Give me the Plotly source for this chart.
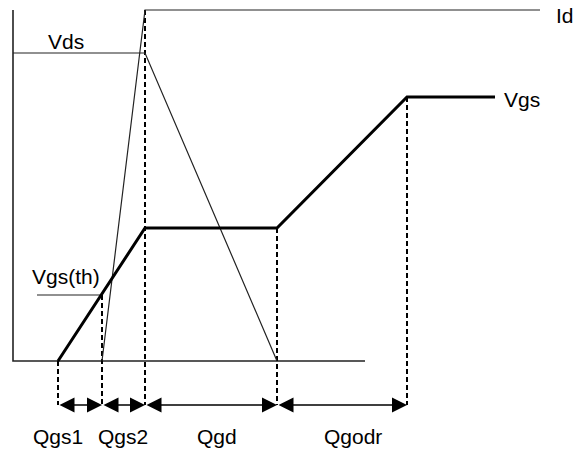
import plotly.graph_objects as go

# Schematic gate-charge diagram (units: arbitrary charge / level)
q_vgs = [45, 89, 132, 264, 394, 482]
v_vgs = [0, 67, 133, 133, 264, 264]

q_id = [89, 132, 527]
v_id = [0, 351, 351]

q_vds = [0, 132, 264]
v_vds = [308, 308, 0]

vth_q = [24, 89]
vth_v = [66, 66]

axis_x = [0, 0, 352]
axis_y = [351, 0, 0]

q_marks = [45, 89, 132, 264, 394]
mark_tops = [0, 66, 351, 133, 264]
dim_level = -44

seg_labels = ["Qgs1", "Qgs2", "Qgd", "Qgodr"]
seg_label_q = [45, 110, 204, 340]
seg_label_v = -75

sig_labels = ["Vds", "Id", "Vgs", "Vgs(th)"]
sig_label_q = [53, 552, 509, 53]
sig_label_v = [320, 346, 262, 85]

FONT = "Liberation Sans, Arial, sans-serif"
fig = go.Figure()

# axes
fig.add_trace(go.Scatter(x=axis_x, y=axis_y, mode="lines",
                         line=dict(color="#222", width=1.6), hoverinfo="skip"))
# dashed verticals
for q, t in zip(q_marks, mark_tops):
    fig.add_trace(go.Scatter(x=[q, q], y=[t, dim_level], mode="lines",
                             line=dict(color="black", width=2, dash="5px,3px"),
                             hoverinfo="skip"))
# thin signals
fig.add_trace(go.Scatter(x=q_id, y=v_id, mode="lines",
                         line=dict(color="#222", width=1.2), hoverinfo="skip"))
fig.add_trace(go.Scatter(x=q_vds, y=v_vds, mode="lines",
                         line=dict(color="#222", width=1.2), hoverinfo="skip"))
fig.add_trace(go.Scatter(x=vth_q, y=vth_v, mode="lines",
                         line=dict(color="#222", width=1.2), hoverinfo="skip"))
# Vgs thick
fig.add_trace(go.Scatter(x=q_vgs, y=v_vgs, mode="lines",
                         line=dict(color="black", width=3), hoverinfo="skip"))

# dimension arrows
for a, b in zip(q_marks[:-1], q_marks[1:]):
    fig.add_annotation(x=b, y=dim_level, ax=a, ay=dim_level, xref="x", yref="y",
                       axref="x", ayref="y", text="", showarrow=True,
                       arrowhead=2, startarrowhead=2, arrowside="end+start",
                       arrowwidth=1.5, arrowsize=2.0, startarrowsize=2.0,
                       arrowcolor="black", standoff=0, startstandoff=0)

for t, q in zip(seg_labels, seg_label_q):
    fig.add_annotation(x=q, y=seg_label_v, text=t, showarrow=False,
                       font=dict(family=FONT, size=21, color="black"))
for t, q, v in zip(sig_labels, sig_label_q, sig_label_v):
    fig.add_annotation(x=q, y=v, text=t, showarrow=False,
                       font=dict(family=FONT, size=21, color="black"))

fig.update_layout(
    width=578, height=451, margin=dict(l=0, r=0, t=0, b=0),
    paper_bgcolor="white", plot_bgcolor="white", showlegend=False,
    xaxis=dict(range=[-13, 565], visible=False, fixedrange=True),
    yaxis=dict(range=[-90, 361], visible=False, fixedrange=True),
)
fig.write_html("out.html", config={"displayModeBar": False},
               post_script="document.body.style.margin='0';document.body.style.overflow='hidden';")
